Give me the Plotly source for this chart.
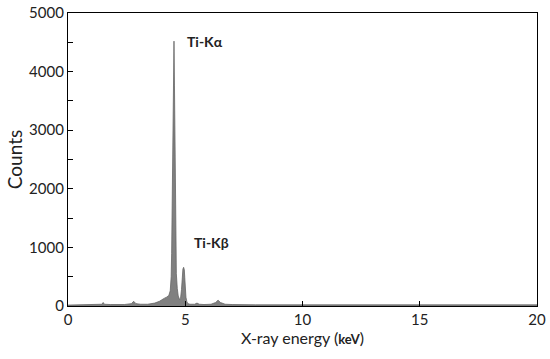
import plotly.graph_objects as go

# Spectrum (energy in keV, counts)
energy = [0.0, 0.3, 0.6, 0.9, 1.2, 1.45, 1.5, 1.55, 1.8, 2.1, 2.4, 2.7, 2.8, 2.9, 3.1, 3.4, 3.7, 3.9, 4.0, 4.1, 4.2,
          4.3, 4.36, 4.40, 4.42, 4.44, 4.46, 4.48, 4.50, 4.51, 4.52, 4.54, 4.56, 4.58, 4.60, 4.62, 4.66, 4.70, 4.76,
          4.80, 4.84, 4.86, 4.88, 4.90, 4.93, 4.96, 4.98, 5.00, 5.03, 5.07, 5.12, 5.2, 5.4, 5.5, 5.6, 5.8, 6.1,
          6.3, 6.4, 6.5, 6.7, 7.0, 7.5, 8.0, 9.0, 10.0, 11.0, 12.0, 13.0, 14.0, 15.0, 16.0, 17.0, 18.0, 19.0, 20.0]
counts = [15, 20, 20, 20, 25, 30, 60, 30, 25, 25, 25, 40, 80, 40, 30, 30, 50, 80, 110, 130, 150,
          180, 260, 500, 900, 1600, 2880, 3340, 4150, 4520, 4520, 3770, 2900, 1900, 1000, 550, 300, 170, 110,
          130, 280, 450, 560, 630, 660, 620, 480, 300, 150, 70, 40, 30, 30, 50, 30, 25, 30,
          60, 100, 60, 30, 25, 20, 20, 20, 20, 20, 20, 20, 20, 20, 20, 20, 20, 20, 20]

x_ticks = [0, 5, 10, 15, 20]
y_ticks = [0, 1000, 2000, 3000, 4000, 5000]

font_family = "Lato, Open Sans, sans-serif"

fig = go.Figure()
fig.add_trace(go.Scatter(
    x=energy, y=counts, mode="lines", fill="tozeroy",
    line=dict(color="#666666", width=0.8),
    fillcolor="#808080", showlegend=False, hoverinfo="skip"))

fig.add_annotation(x=5.0, y=4520, text="<b>Ti-Kα</b>", showarrow=False,
                   xanchor="left", yanchor="middle", font=dict(size=14, color="#222"))
fig.add_annotation(x=5.3, y=1090, text="<b>Ti-Kβ</b>", showarrow=False,
                   xanchor="left", yanchor="middle", font=dict(size=14, color="#222"))

fig.update_layout(
    width=550, height=359,
    margin=dict(l=68, r=13, t=13, b=53, autoexpand=False),
    paper_bgcolor="white", plot_bgcolor="white",
    font=dict(family=font_family, size=15, color="#222"),
)
fig.update_xaxes(
    range=[0, 20], tickvals=x_ticks, ticks="inside", ticklen=5, tickcolor="#000",
    showline=True, linecolor="#000", linewidth=1.2, mirror=True, showgrid=False, zeroline=False,
    automargin=False,
    title=dict(text="X-ray energy (<span style='font-size:13px'><b>keV</b></span>)", font=dict(size=16), standoff=2),
    tickfont=dict(size=15),
)
fig.update_yaxes(
    range=[0, 5000], tickvals=y_ticks, ticks="inside", ticklen=5, tickcolor="#000",
    minor=dict(dtick=500, ticks="inside", ticklen=5, tickcolor="#000"),
    showline=True, linecolor="#000", linewidth=1.2, mirror=True, showgrid=False, zeroline=False,
    automargin=False,
    title=dict(text="Counts", font=dict(size=19), standoff=1),
    tickfont=dict(size=15),
)

fig.write_html("out.html", config={"displayModeBar": False},
               post_script="document.body.style.margin='0';")
